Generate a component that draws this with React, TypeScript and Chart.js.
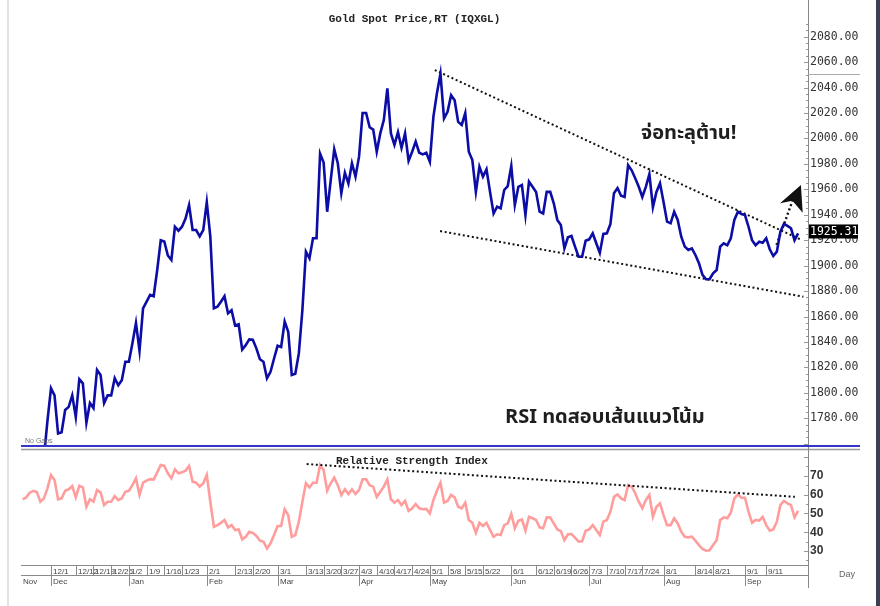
import React, { useEffect, useRef } from "react";
import { Chart, registerables } from "chart.js";
Chart.register(...registerables);

// ---------- text ----------
const TITLE = "Gold Spot Price,RT (IQXGL)";
const RSI_TITLE = "Relative Strength Index";
const CALLOUT_TOP = "จ่อทะลุต้าน!";
const CALLOUT_BOTTOM = "RSI ทดสอบเส้นแนวโน้ม";
const NO_GAPS = "No Gaps";
const X_UNIT = "Day";
const LAST_LABEL = "1925.31";

// ---------- categories (trading days, weekdays from 21 Nov 2022) ----------
const FIRST_DAY = { y: 2022, m: 10, d: 21 };
const DAY_COUNT = 220;

// ---------- series ----------
const priceValues: (number | null)[] = [
  null, null, null, null, null, null, 1749, 1778,
  1803.6, 1798, 1768, 1769, 1786.5, 1789, 1798, 1781, 1810.7, 1807.5,
  1776.5, 1792, 1788, 1818, 1814, 1792, 1798, 1798, 1811.5, 1806,
  1810, 1824.5, 1824.5, 1839, 1855, 1833, 1866.5, 1871.7, 1877, 1876,
  1896.6, 1920, 1919, 1908, 1904.5, 1930.6, 1927.5, 1930.6, 1937, 1947.7,
  1928, 1928, 1923, 1928, 1950, 1922.8, 1866.5, 1867.7, 1871.7, 1876,
  1862.5, 1865, 1853, 1854, 1834, 1837.5, 1842, 1841.7, 1835, 1826.4,
  1824.5, 1811.5, 1816.5, 1827, 1837, 1836, 1856, 1848, 1814, 1815,
  1831, 1865, 1911, 1905.8, 1921.5, 1921.5, 1988, 1981, 1942.4, 1967,
  1991.5, 1980.5, 1957, 1973, 1964.7, 1980.5, 1970, 1985.7, 2020, 2020,
  2008.8, 2007, 1989.6, 2004, 2014.5, 2039.4, 2004, 1995, 2005, 1992.7,
  2004, 1982.5, 1989.6, 1997.5, 1988.8, 1987.5, 1988.8, 1981.7, 2017, 2035.5,
  2051,
  2015.8, 2021, 2034, 2030, 2013, 2010.6, 2020, 1989.6, 1983, 1958,
  1977.8, 1970, 1975.7, 1958, 1941, 1946.4, 1945, 1959.5, 1962.6, 1978.3,
  1947.7, 1962, 1963.4, 1939.8, 1966, 1962, 1958, 1942.4, 1941, 1958,
  1958, 1949, 1936, 1932, 1913.6, 1922.3, 1923.3, 1915, 1907, 1907,
  1919.6, 1920.7, 1925.4, 1917.6, 1910, 1925, 1925.4, 1932.8, 1957, 1961,
  1955, 1954, 1979, 1975, 1968.7, 1962, 1954, 1962, 1972, 1946,
  1958, 1964.7, 1950, 1934.6, 1933.3, 1942.4, 1936, 1922.8, 1915, 1912.3,
  1913.6, 1908.4, 1902, 1892.7, 1889.3, 1889.3, 1894, 1896.6, 1915, 1917.6,
  1916, 1921.5, 1936, 1942.4, 1940.6, 1939.8, 1930.6, 1920, 1916, 1918.8,
  1918, 1921.5, 1912.9, 1907.6, 1911, 1926.7, 1932.8, 1931.2, 1929.4, 1920,
  1925.31,
];

const rsiValues: number[] = [
  57.5, 58.5, 61, 62, 61.3, 56.2, 58, 63.3,
  70.4, 67.7, 57.5, 58, 62, 62.8, 64.5, 58.5, 64.7, 63.8,
  53.5, 57.5, 56.2, 62.4, 61.2, 54.4, 56.2, 56.2, 59.2, 57.1,
  58, 61.5, 62, 65, 68.6, 59.8, 66.3, 67.4, 68.2, 68,
  71.8, 75.7, 75.2, 71.3, 68.6, 73.4, 71.3, 71.8, 72.7, 75.2,
  66.8, 66.3, 64.2, 66, 70.4, 56.2, 42.9, 43.8, 45, 46.5,
  42.6, 43.8, 41.2, 41.5, 36.2, 37.6, 40.3, 39.7, 38, 35.5,
  35, 31.4, 34.1, 38.5, 43.3, 43.3, 52.2, 49.1, 37.6, 38.5,
  45.6, 56.2, 66, 63.8, 66.3, 66.3, 75.7, 73, 62, 66,
  69, 65, 59.8, 62.8, 60.3, 62.8, 60.3, 62.4, 68.1, 68.1,
  65, 64.2, 58.8, 61.5, 64.2, 68.1, 57.5, 55.7, 57.1, 54.4,
  56.7, 51.3, 52.7, 55, 52.7, 52.2, 52.4, 50, 57.1, 62,
  66.3,
  55.7, 56.6, 59.8, 58.5, 53.5, 52.7, 55.7, 46.5, 45, 39.7,
  45, 43.3, 45, 41.2, 37.6, 38.9, 38.5, 43.8, 44.7, 49.7,
  42.1, 46.1, 46.8, 40.8, 48.2, 47.4, 46.5, 42.6, 42.1, 47.9,
  47.8, 44.7, 41.5, 40.6, 35.8, 38.9, 39, 37.1, 35, 35.2,
  40.8, 41.5, 43.8, 41.2, 38.5, 45.6, 46.5, 50.9, 58.8, 60.1,
  58, 57.1, 65, 64.2, 60.7, 56.2, 52.7, 57.1, 59.8, 48.2,
  53.5, 55.3, 49.1, 43.8, 43.8, 47.4, 44.7, 40.3, 37.6, 37.3,
  37.6, 35.5, 33.2, 31.1, 30.2, 30.4, 33.2, 35.8, 46.5, 47.9,
  47.4, 50.4, 58, 60.1, 58.3, 58.3, 50.9, 45, 46.5, 46.2,
  48.2, 43.8, 40.8, 41.5, 45.6, 54.4, 56.6, 55.3, 54.4, 47.9,
  51.4,
];

// ---------- ticks ----------
const priceTicks = [2080, 2060, 2040, 2020, 2000, 1980, 1960, 1940, 1920, 1900, 1880, 1860, 1840, 1820, 1800, 1780];
const rsiTicks = [70, 60, 50, 40, 30];
const dateTickLabels = [
  "12/1", "12/12", "12/19", "12/26", "1/2", "1/9", "1/16", "1/23", "2/1", "2/13", "2/20",
  "3/1", "3/13", "3/20", "3/27", "4/3", "4/10", "4/17", "4/24", "5/1", "5/8", "5/15", "5/22",
  "6/1", "6/12", "6/19", "6/26", "7/3", "7/10", "7/17", "7/24", "8/1", "8/14", "8/21", "9/1", "9/11",
];
const monthLabels = ["Nov", "Dec", "Jan", "Feb", "Mar", "Apr", "May", "Jun", "Jul", "Aug", "Sep"];

// ---------- drawn trend lines (x: trading-day index, y: value) ----------
const priceUpperTrend = [{ x: 116.4, y: 2053.8 }, { x: 220.0, y: 1920.2 }];
const priceLowerTrend = [{ x: 117.9, y: 1927.2 }, { x: 220.5, y: 1875.6 }];
const breakoutShaft = [{ x: 212.9, y: 1916.3 }, { x: 217.5, y: 1951.6 }];
const breakoutHead = [{ x: 219.8, y: 1963.4 }, { x: 213.9, y: 1949 }, { x: 217.4, y: 1951 }, { x: 220.3, y: 1941.6 }];
const rsiTrend = [{ x: 80.2, y: 76.2 }, { x: 218.1, y: 58.8 }];

// ---------- helpers ----------
function buildDays() {
  const out: { m: number; label: string }[] = [];
  const d = new Date(FIRST_DAY.y, FIRST_DAY.m, FIRST_DAY.d);
  while (out.length < DAY_COUNT) {
    const wd = d.getDay();
    if (wd !== 0 && wd !== 6) out.push({ m: d.getMonth(), label: `${d.getMonth() + 1}/${d.getDate()}` });
    d.setDate(d.getDate() + 1);
  }
  return out;
}
const days = buildDays();
const dateTickIdx = dateTickLabels.map((l) => days.findIndex((d) => d.label === l));
const monthStartIdx: number[] = [];
days.forEach((d, i) => {
  if (i === 0 || d.m !== days[i - 1].m) monthStartIdx.push(i);
});

const X_MIN = -0.47;
const X_MAX = 221.8;
const AXIS_W = 72;
const MONO = '"DejaVu Sans Mono", monospace';
const COURIER = '"Liberation Mono", "Courier New", monospace';
const THAI = '"Noto Sans Thai", "Noto Sans Thai UI", "Liberation Sans", "Noto Sans", sans-serif';

const dotted = { borderColor: "#111", borderWidth: 2, borderDash: [2, 2.6], pointRadius: 0, tension: 0 };

const fitAxis = (s: any) => {
  s.width = AXIS_W;
  s.paddingTop = 0;
  s.paddingBottom = 0;
};

export default function App() {
  const ref1 = useRef<HTMLCanvasElement>(null);
  const ref2 = useRef<HTMLCanvasElement>(null);

  useEffect(() => {
    const pricePlugin = {
      id: "priceDecor",
      afterDatasetsDraw(chart: any) {
        const { ctx, scales } = chart;
        const xs = scales.x, ys = scales.y;
        ctx.save();
        ctx.fillStyle = "#111";
        ctx.beginPath();
        breakoutHead.forEach((p, i) => {
          const px = xs.getPixelForValue(p.x), py = ys.getPixelForValue(p.y);
          if (i === 0) ctx.moveTo(px, py); else ctx.lineTo(px, py);
        });
        ctx.closePath();
        ctx.fill();
        ctx.restore();
      },
      afterDraw(chart: any) {
        const { ctx, chartArea, scales } = chart;
        const ys = scales.y;
        ctx.save();
        // title
        ctx.fillStyle = "#222";
        ctx.font = `bold 11px ${COURIER}`;
        ctx.textAlign = "center";
        ctx.textBaseline = "alphabetic";
        ctx.fillText(TITLE, (chartArea.left + chartArea.right) / 2, 22);
        // callouts
        ctx.textAlign = "left";
        ctx.fillStyle = "#1e1e1e";
        ctx.font = `bold 20px ${THAI}`;
        ctx.fillText(CALLOUT_TOP, 641, 139);
        ctx.fillText(CALLOUT_BOTTOM, 505, 423);
        // no gaps
        ctx.fillStyle = "#777";
        ctx.font = `7px "Liberation Sans", sans-serif`;
        ctx.fillText(NO_GAPS, 25, 443);
        // axis line full height
        ctx.strokeStyle = "#888";
        ctx.lineWidth = 1;
        ctx.beginPath();
        ctx.moveTo(chartArea.right + 0.5, 0);
        ctx.lineTo(chartArea.right + 0.5, chart.height);
        ctx.stroke();
        // minor ticks
        ctx.strokeStyle = "#999";
        for (let v = 1760; v <= 2090; v += 5) {
          const y = Math.round(ys.getPixelForValue(v)) + 0.5;
          ctx.beginPath();
          ctx.moveTo(chartArea.right - (v % 20 === 0 ? 4 : 2), y);
          ctx.lineTo(chartArea.right, y);
          ctx.stroke();
        }
        // max marker
        const maxV = Math.max(...(priceValues.filter((v) => v !== null) as number[]));
        const my = Math.round(ys.getPixelForValue(maxV)) + 0.5;
        ctx.strokeStyle = "#aaa";
        ctx.beginPath();
        ctx.moveTo(chartArea.right, my);
        ctx.lineTo(860, my);
        ctx.stroke();
        // panel separator
        ctx.strokeStyle = "#3535c8";
        ctx.lineWidth = 2;
        ctx.beginPath();
        ctx.moveTo(chartArea.left, chartArea.bottom + 1);
        ctx.lineTo(860, chartArea.bottom + 1);
        ctx.stroke();
        // last price label
        const last = priceValues[priceValues.length - 1] as number;
        const ly = ys.getPixelForValue(last) - 2;
        ctx.fillStyle = "#000";
        ctx.fillRect(chartArea.right + 1, ly - 7, 49, 14);
        ctx.fillStyle = "#fff";
        ctx.font = `11.5px ${MONO}`;
        ctx.textBaseline = "middle";
        ctx.fillText(LAST_LABEL, chartArea.right + 2, ly + 0.5);
        ctx.restore();
      },
    };

    const rsiPlugin = {
      id: "rsiDecor",
      afterDraw(chart: any) {
        const { ctx, chartArea, scales } = chart;
        const xs = scales.x, ys = scales.y;
        const L = chartArea.left, R = chartArea.right, B = chartArea.bottom;
        ctx.save();
        // top grey line
        ctx.strokeStyle = "#9a9a9a";
        ctx.lineWidth = 1.5;
        ctx.beginPath();
        ctx.moveTo(L, chartArea.top + 0.5);
        ctx.lineTo(860, chartArea.top + 0.5);
        ctx.stroke();
        // title
        ctx.fillStyle = "#222";
        ctx.font = `bold 11px ${COURIER}`;
        ctx.textAlign = "left";
        ctx.textBaseline = "alphabetic";
        ctx.fillText(RSI_TITLE, 336, 16);
        // axis line
        ctx.strokeStyle = "#888";
        ctx.lineWidth = 1;
        ctx.beginPath();
        ctx.moveTo(R + 0.5, 0);
        ctx.lineTo(R + 0.5, B + 23);
        ctx.stroke();
        // minor ticks
        ctx.strokeStyle = "#999";
        for (let v = 25; v <= 80; v += 5) {
          const y = Math.round(ys.getPixelForValue(v)) + 0.5;
          ctx.beginPath();
          ctx.moveTo(R - (v % 10 === 0 ? 4 : 2), y);
          ctx.lineTo(R, y);
          ctx.stroke();
        }
        // x axis rows
        const row1 = B + 0.5, row2 = B + 10.5, row3 = B + 21;
        ctx.strokeStyle = "#8a8a8a";
        ctx.beginPath();
        ctx.moveTo(L, row1); ctx.lineTo(R, row1);
        ctx.moveTo(L, row2); ctx.lineTo(R, row2);
        ctx.stroke();
        ctx.fillStyle = "#444";
        ctx.font = `8px "Liberation Sans", Arial, sans-serif`;
        dateTickIdx.forEach((idx, k) => {
          const px = Math.round(xs.getPixelForValue(idx)) + 0.5;
          ctx.beginPath();
          ctx.moveTo(px, row1); ctx.lineTo(px, row2);
          ctx.stroke();
          ctx.fillText(dateTickLabels[k], px + 1.5, B + 9);
        });
        monthStartIdx.forEach((idx, k) => {
          if (k >= monthLabels.length) return;
          let px = Math.round(xs.getPixelForValue(idx)) + 0.5;
          if (k === 0) px = L + 0.5;
          else {
            ctx.beginPath();
            ctx.moveTo(px, row2); ctx.lineTo(px, row3);
            ctx.stroke();
          }
          ctx.fillText(monthLabels[k], px + 1.5, B + 19);
        });
        // unit label
        ctx.fillStyle = "#666";
        ctx.font = `9px "Liberation Sans", Arial, sans-serif`;
        ctx.fillText(X_UNIT, 839, B + 12);
        ctx.restore();
      },
    };

    const c1 = new Chart(ref1.current!, {
      type: "line",
      data: {
        datasets: [
          {
            data: priceValues.map((y, x) => ({ x, y })) as any,
            borderColor: "#0c0ca6",
            borderWidth: 2.6,
            pointRadius: 0,
            tension: 0,
          },
          { data: priceUpperTrend as any, ...dotted },
          { data: priceLowerTrend as any, ...dotted },
          { data: breakoutShaft as any, ...dotted, borderWidth: 2.4 },
        ],
      },
      options: {
        animation: false,
        responsive: false,
        devicePixelRatio: 1,
        layout: { padding: { left: 21, top: 24, right: 0, bottom: 3 } },
        plugins: { legend: { display: false }, tooltip: { enabled: false }, title: { display: false } },
        scales: {
          x: { type: "linear", min: X_MIN, max: X_MAX, display: false },
          y: {
            type: "linear",
            position: "right",
            min: 1759.0,
            max: 2090,
            afterFit: fitAxis,
            afterBuildTicks: (s: any) => { s.ticks = priceTicks.map((v) => ({ value: v })); },
            grid: { display: false, drawTicks: false },
            border: { display: false },
            ticks: {
              padding: 2,
              color: "#333",
              font: { family: MONO, size: 11.5 },
              callback: (v: any) => Number(v).toFixed(2),
            },
          },
        },
      } as any,
      plugins: [pricePlugin],
    });

    const c2 = new Chart(ref2.current!, {
      type: "line",
      data: {
        datasets: [
          { data: rsiTrend as any, ...dotted },
          {
            data: rsiValues.map((y, x) => ({ x, y })) as any,
            borderColor: "#ff9d9d",
            borderWidth: 2.6,
            pointRadius: 0,
            tension: 0,
          },
        ],
      },
      options: {
        animation: false,
        responsive: false,
        devicePixelRatio: 1,
        layout: { padding: { left: 21, top: 1, right: 0, bottom: 41 } },
        plugins: { legend: { display: false }, tooltip: { enabled: false } },
        scales: {
          x: { type: "linear", min: X_MIN, max: X_MAX, display: false },
          y: {
            type: "linear",
            position: "right",
            min: 22.6,
            max: 84.2,
            afterFit: fitAxis,
            afterBuildTicks: (s: any) => { s.ticks = rsiTicks.map((v) => ({ value: v })); },
            grid: { display: false, drawTicks: false },
            border: { display: false },
            ticks: {
              padding: 2,
              color: "#333",
              font: { family: '"Liberation Sans", Arial, sans-serif', size: 12, weight: "bold" },
            },
          },
        },
      } as any,
      plugins: [rsiPlugin],
    });

    return () => {
      c1.destroy();
      c2.destroy();
    };
  }, []);

  return (
    <div style={{ position: "absolute", left: 0, top: 0, width: 880, height: 606, background: "#fff", overflow: "hidden" }}>
      <canvas ref={ref1} width={880} height={448} style={{ position: "absolute", left: 0, top: 0, width: 880, height: 448 }} />
      <canvas ref={ref2} width={880} height={158} style={{ position: "absolute", left: 0, top: 448, width: 880, height: 158 }} />
      <div style={{ position: "absolute", left: 7, top: 0, width: 2, height: 606, background: "#e2e2e2" }} />
      <div style={{ position: "absolute", left: 876, top: 0, width: 4, height: 606, background: "#3d3f52" }} />
    </div>
  );
}
